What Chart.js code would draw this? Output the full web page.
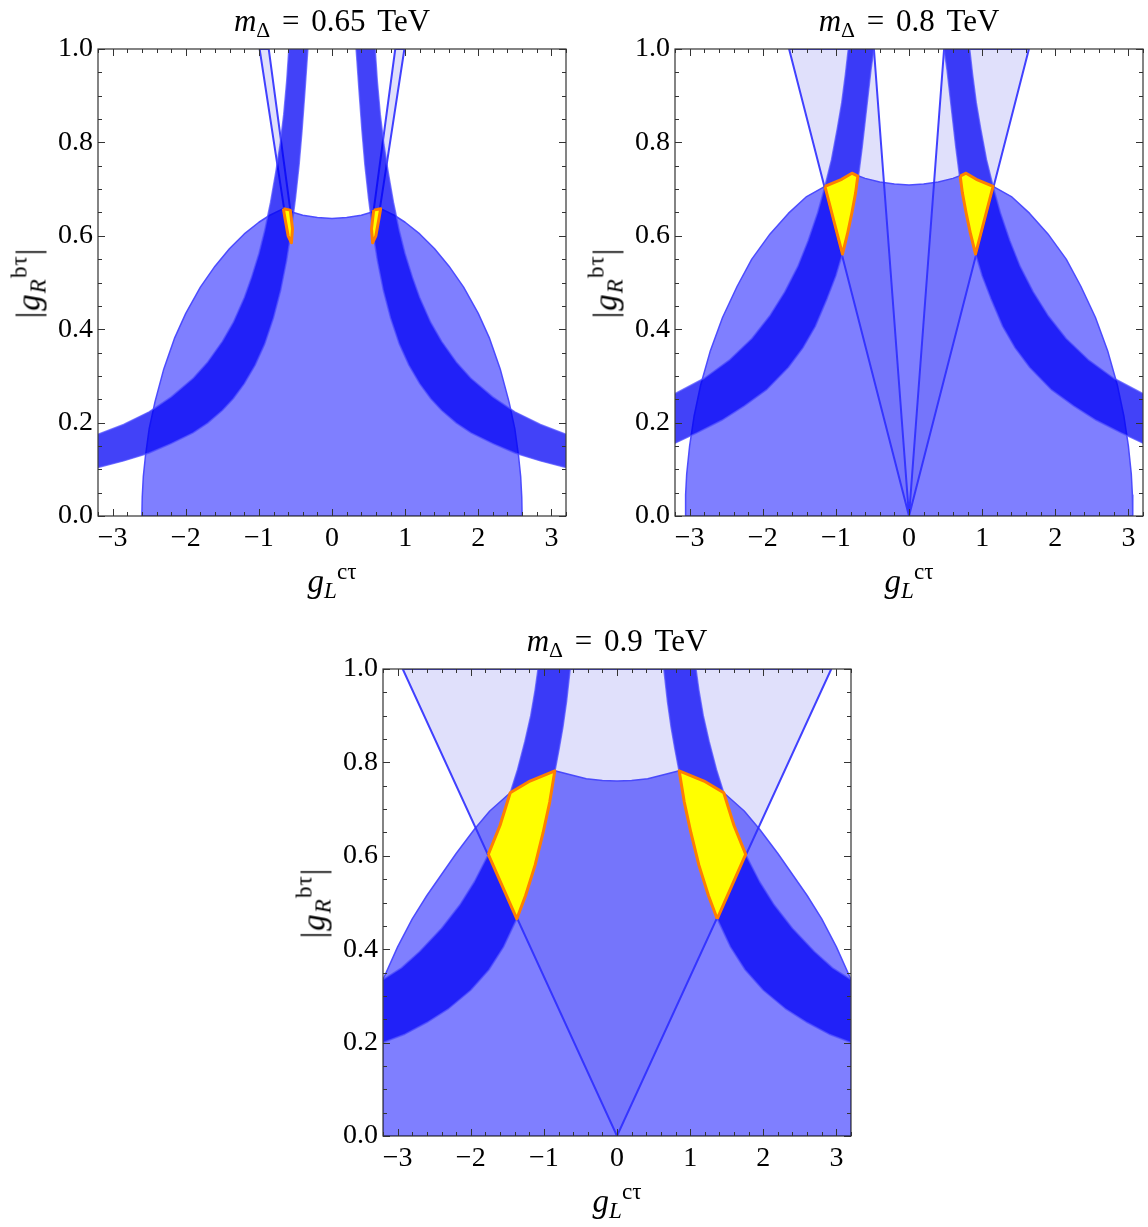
<!DOCTYPE html>
<html>
<head>
<meta charset="utf-8">
<script src="https://cdn.jsdelivr.net/npm/chart.js@4.4.1/dist/chart.umd.min.js"></script>
<style>
  body { margin: 0; background: #fff; width: 1148px; height: 1227px; position: relative; overflow: hidden;
         font-family: "Liberation Serif", "Times New Roman", serif; color: #000; }
  canvas { position: absolute; }
  .lbl { position: absolute; white-space: nowrap; line-height: 1; }
  .title { text-align: center; width: 468px; font-size: 31px; word-spacing: 4px; }
  .sub { font-size: 0.7em; position: relative; top: 0.28em; }
  .sup { font-size: 0.7em; position: relative; top: -0.57em; }
  .xlab { text-align: center; width: 468px; font-size: 33px; }
  .ylab { font-size: 33px; letter-spacing: 1px; transform: translate(-50%, -50%) rotate(-90deg); }
</style>
</head>
<body>
<canvas id="c1" width="574" height="600" style="left:0px;top:0px"></canvas>
<canvas id="c2" width="571" height="600" style="left:577px;top:0px"></canvas>
<canvas id="c3" width="574" height="600" style="left:285px;top:620px"></canvas>

<div class="lbl title" style="left:98px;top:5px"><i>m</i><span class="sub">Δ</span> = 0.65 TeV</div>
<div class="lbl title" style="left:675px;top:5px"><i>m</i><span class="sub">Δ</span> = 0.8 TeV</div>
<div class="lbl title" style="left:383px;top:625px"><i>m</i><span class="sub">Δ</span> = 0.9 TeV</div>

<div class="lbl xlab" style="left:98px;top:565px"><i>g</i><span class="sub"><i>L</i></span><span class="sup">cτ</span></div>
<div class="lbl xlab" style="left:675px;top:565px"><i>g</i><span class="sub"><i>L</i></span><span class="sup">cτ</span></div>
<div class="lbl xlab" style="left:383px;top:1185px"><i>g</i><span class="sub"><i>L</i></span><span class="sup">cτ</span></div>

<div class="lbl ylab" style="left:29px;top:283px">|<i>g</i><span class="sub"><i>R</i></span><span class="sup">bτ</span>|</div>
<div class="lbl ylab" style="left:606px;top:283px">|<i>g</i><span class="sub"><i>R</i></span><span class="sup">bτ</span>|</div>
<div class="lbl ylab" style="left:314px;top:903px">|<i>g</i><span class="sub"><i>R</i></span><span class="sup">bτ</span>|</div>

<script>
// axes
const xRange = [-3.2, 3.2];
const yRange = [0, 1];
const xTickValues = [-3, -2, -1, 0, 1, 2, 3];
const yTickValues = [0, 0.2, 0.4, 0.6, 0.8, 1.0];

// ---- m_Delta = 0.65 TeV ----
const ellipseA = [[-2.60,0],[-2.595,0.04],[-2.58,0.085],[-2.55,0.13],[-2.50,0.187],[-2.42,0.245],[-2.30,0.315],
  [-2.15,0.382],[-2.00,0.434],[-1.80,0.49],[-1.60,0.535],[-1.40,0.573],[-1.20,0.604],[-1.00,0.629],[-0.85,0.644],
  [-0.68,0.657],[-0.55,0.651],[-0.40,0.644],[-0.20,0.639],[0,0.637],[0.20,0.639],[0.40,0.644],[0.55,0.651],
  [0.68,0.657],[0.85,0.644],[1.00,0.629],[1.20,0.604],[1.40,0.573],[1.60,0.535],[1.80,0.49],[2.00,0.434],
  [2.15,0.382],[2.30,0.315],[2.42,0.245],[2.50,0.187],[2.55,0.13],[2.58,0.085],[2.595,0.04],[2.60,0]];
const bandOuterLeftA = [[-0.59,1.0],[-0.62,0.93],[-0.66,0.86],[-0.71,0.795],[-0.77,0.735],[-0.84,0.672],[-0.92,0.612],
  [-1.0,0.562],[-1.1,0.512],[-1.2,0.468],[-1.35,0.415],[-1.5,0.374],[-1.7,0.33],[-1.9,0.295],[-2.2,0.255],
  [-2.5,0.223],[-2.85,0.196],[-3.2,0.175]];
const bandInnerLeftA = [[-3.2,0.104],[-2.85,0.118],[-2.5,0.135],[-2.2,0.155],[-1.9,0.178],[-1.7,0.199],[-1.5,0.226],
  [-1.35,0.251],[-1.2,0.283],[-1.05,0.323],[-0.92,0.368],[-0.8,0.424],[-0.7,0.484],[-0.62,0.547],[-0.56,0.607],
  [-0.5,0.68],[-0.45,0.752],[-0.41,0.825],[-0.37,0.91],[-0.33,1.0]];
const bandOuterRightA = [[0.59,1.0],[0.62,0.93],[0.66,0.86],[0.71,0.795],[0.77,0.735],[0.84,0.672],[0.92,0.612],
  [1.0,0.562],[1.1,0.512],[1.2,0.468],[1.35,0.415],[1.5,0.374],[1.7,0.33],[1.9,0.295],[2.2,0.255],
  [2.5,0.223],[2.85,0.196],[3.2,0.175]];
const bandInnerRightA = [[3.2,0.104],[2.85,0.118],[2.5,0.135],[2.2,0.155],[1.9,0.178],[1.7,0.199],[1.5,0.226],
  [1.35,0.251],[1.2,0.283],[1.05,0.323],[0.92,0.368],[0.8,0.424],[0.7,0.484],[0.62,0.547],[0.56,0.607],
  [0.5,0.68],[0.45,0.752],[0.41,0.825],[0.37,0.91],[0.33,1.0]];
const wedgeLeftA = [[-0.99,1.0],[-0.865,1.0],[-0.57,0.655],[-0.655,0.658]];
const wedgeRightA = [[0.865,1.0],[0.99,1.0],[0.655,0.658],[0.57,0.655]];
const allowedLeftA = [[-0.665,0.658],[-0.57,0.655],[-0.54,0.615],[-0.555,0.585],[-0.60,0.60],[-0.64,0.635]];
const allowedRightA = [[0.57,0.655],[0.665,0.658],[0.64,0.635],[0.60,0.60],[0.555,0.585],[0.54,0.615]];

// ---- m_Delta = 0.8 TeV ----
const ellipseB = [[-3.06,0],[-3.055,0.045],[-3.04,0.09],[-3.0,0.15],[-2.94,0.213],[-2.85,0.28],[-2.72,0.352],
  [-2.55,0.425],[-2.35,0.492],[-2.15,0.55],[-1.9,0.604],[-1.65,0.648],[-1.4,0.684],[-1.15,0.706],[-0.92,0.721],
  [-0.77,0.733],[-0.6,0.723],[-0.4,0.715],[-0.2,0.711],[0,0.709],[0.2,0.711],[0.4,0.715],[0.6,0.723],[0.77,0.733],
  [0.92,0.721],[1.15,0.706],[1.4,0.684],[1.65,0.648],[1.9,0.604],[2.15,0.55],[2.35,0.492],[2.55,0.425],[2.72,0.352],
  [2.85,0.28],[2.94,0.213],[3.0,0.15],[3.04,0.09],[3.055,0.045],[3.06,0]];
const bandOuterLeftB = [[-0.83,1.0],[-0.87,0.945],[-0.92,0.885],[-0.98,0.83],[-1.06,0.763],[-1.15,0.706],[-1.25,0.65],
  [-1.38,0.59],[-1.52,0.535],[-1.7,0.48],[-1.9,0.43],[-2.15,0.38],[-2.45,0.335],[-2.8,0.295],[-3.2,0.262]];
const bandInnerLeftB = [[-3.2,0.156],[-2.9,0.178],[-2.56,0.205],[-2.25,0.236],[-1.95,0.27],[-1.65,0.318],[-1.45,0.36],
  [-1.28,0.406],[-1.12,0.465],[-1.0,0.514],[-0.91,0.561],[-0.84,0.605],[-0.78,0.65],[-0.73,0.692],[-0.69,0.729],
  [-0.64,0.79],[-0.6,0.845],[-0.56,0.9],[-0.52,0.955],[-0.48,1.0]];
const bandOuterRightB = [[0.83,1.0],[0.87,0.945],[0.92,0.885],[0.98,0.83],[1.06,0.763],[1.15,0.706],[1.25,0.65],
  [1.38,0.59],[1.52,0.535],[1.7,0.48],[1.9,0.43],[2.15,0.38],[2.45,0.335],[2.8,0.295],[3.2,0.262]];
const bandInnerRightB = [[3.2,0.156],[2.9,0.178],[2.56,0.205],[2.25,0.236],[1.95,0.27],[1.65,0.318],[1.45,0.36],
  [1.28,0.406],[1.12,0.465],[1.0,0.514],[0.91,0.561],[0.84,0.605],[0.78,0.65],[0.73,0.692],[0.69,0.729],
  [0.64,0.79],[0.6,0.845],[0.56,0.9],[0.52,0.955],[0.48,1.0]];
const wedgeLeftB = [[0,0],[-1.64,1.0],[-0.48,1.0]];
const wedgeRightB = [[0,0],[0.48,1.0],[1.64,1.0]];
const allowedLeftB = [[-1.15,0.706],[-0.92,0.721],[-0.78,0.734],[-0.70,0.728],[-0.73,0.692],[-0.78,0.65],[-0.84,0.605],
  [-0.91,0.561]];
const allowedRightB = [[0.70,0.728],[0.78,0.734],[0.92,0.721],[1.15,0.706],[0.91,0.561],[0.84,0.605],[0.78,0.65],
  [0.73,0.692]];

// ---- m_Delta = 0.9 TeV ----
const ellipseC = [[-3.2,0],[-3.2,0.335],[-3.0,0.405],[-2.8,0.465],[-2.6,0.515],[-2.4,0.56],[-2.2,0.605],[-1.95,0.657],
  [-1.74,0.696],[-1.46,0.735],[-1.19,0.76],[-0.85,0.782],[-0.65,0.774],[-0.42,0.765],[-0.2,0.761],[0,0.76],
  [0.2,0.761],[0.42,0.765],[0.65,0.774],[0.85,0.782],[1.19,0.76],[1.46,0.735],[1.74,0.696],[1.95,0.657],[2.2,0.605],
  [2.4,0.56],[2.6,0.515],[2.8,0.465],[3.0,0.405],[3.2,0.335],[3.2,0]];
const bandOuterLeftC = [[-1.08,1.0],[-1.12,0.955],[-1.18,0.9],[-1.26,0.845],[-1.36,0.785],[-1.46,0.735],[-1.6,0.665],
  [-1.76,0.603],[-1.95,0.545],[-2.15,0.495],[-2.4,0.445],[-2.7,0.395],[-2.95,0.36],[-3.2,0.335]];
const bandInnerLeftC = [[-3.2,0.20],[-2.9,0.218],[-2.6,0.243],[-2.3,0.273],[-2.0,0.312],[-1.75,0.356],[-1.55,0.405],
  [-1.37,0.465],[-1.25,0.515],[-1.12,0.58],[-1.01,0.65],[-0.92,0.715],[-0.85,0.78],[-0.79,0.83],[-0.74,0.875],
  [-0.69,0.93],[-0.64,1.0]];
const bandOuterRightC = [[1.08,1.0],[1.12,0.955],[1.18,0.9],[1.26,0.845],[1.36,0.785],[1.46,0.735],[1.6,0.665],
  [1.76,0.603],[1.95,0.545],[2.15,0.495],[2.4,0.445],[2.7,0.395],[2.95,0.36],[3.2,0.335]];
const bandInnerRightC = [[3.2,0.20],[2.9,0.218],[2.6,0.243],[2.3,0.273],[2.0,0.312],[1.75,0.356],[1.55,0.405],
  [1.37,0.465],[1.25,0.515],[1.12,0.58],[1.01,0.65],[0.92,0.715],[0.85,0.78],[0.79,0.83],[0.74,0.875],
  [0.69,0.93],[0.64,1.0]];
const wedgeC = [[0,0],[-2.93,1.0],[2.93,1.0]];
const allowedLeftC = [[-1.76,0.603],[-1.6,0.665],[-1.46,0.735],[-1.19,0.76],[-0.85,0.782],[-0.92,0.715],[-1.01,0.65],
  [-1.12,0.58],[-1.25,0.515],[-1.37,0.465]];
const allowedRightC = [[1.37,0.465],[1.25,0.515],[1.12,0.58],[1.01,0.65],[0.92,0.715],[0.85,0.782],[1.19,0.76],
  [1.46,0.735],[1.6,0.665],[1.76,0.603]];

const FONT = '"Liberation Serif", "Times New Roman", serif';

function closed(arr) {
  return arr.concat([arr[0]]).map(([x, y]) => ({ x, y }));
}

function region(arr, fill, line, width) {
  return {
    data: closed(arr),
    showLine: true,
    fill: 'shape',
    backgroundColor: fill,
    borderColor: line,
    borderWidth: width,
    borderJoinStyle: 'round',
    pointRadius: 0,
    pointHoverRadius: 0,
    tension: 0,
    clip: 0
  };
}

const ellipseStyle = ['rgba(0,0,255,0.5)', 'rgba(70,70,255,0.95)', 1.5];
const wedgeStyle = ['rgba(60,60,230,0.16)', 'rgba(45,45,255,0.9)', 2];
const bandStyle = ['rgba(0,0,245,0.74)', 'rgba(80,80,255,0.75)', 1.5];
const allowedStyle = ['#ffff00', '#ff7f00', 3];

// inward frame ticks on all four sides, like the original frame
const frameTicks = {
  id: 'frameTicks',
  afterDatasetsDraw(chart) {
    const { ctx, chartArea: a, scales: { x, y } } = chart;
    ctx.save();
    ctx.strokeStyle = '#333';
    ctx.lineWidth = 1;
    ctx.beginPath();
    for (let v = -32; v <= 32; v += 2) {
      const len = v % 10 === 0 ? 7 : 4;
      const px = Math.round(x.getPixelForValue(v / 10)) + 0.5;
      ctx.moveTo(px, a.bottom); ctx.lineTo(px, a.bottom - len);
      ctx.moveTo(px, a.top); ctx.lineTo(px, a.top + len);
    }
    for (let v = 0; v <= 20; v++) {
      const len = v % 4 === 0 ? 7 : 4;
      const py = Math.round(y.getPixelForValue(v / 20)) + 0.5;
      ctx.moveTo(a.left, py); ctx.lineTo(a.left + len, py);
      ctx.moveTo(a.right, py); ctx.lineTo(a.right - len, py);
    }
    ctx.stroke();
    ctx.lineWidth = 1.2;
    ctx.strokeRect(a.left, a.top, a.right - a.left, a.bottom - a.top);
    ctx.restore();
  }
};

function makePanel(id, rightPad, layers) {
  const datasets = layers.map(([arr, style]) => region(arr, ...style));
  datasets.forEach((d, i) => { d.order = -i; });
  new Chart(document.getElementById(id), {
    type: 'scatter',
    data: { datasets },
    options: {
      responsive: false,
      animation: false,
      events: [],
      layout: { padding: { top: 49, right: rightPad, left: 0, bottom: 0 } },
      plugins: { legend: { display: false }, tooltip: { enabled: false } },
      scales: {
        x: {
          type: 'linear', min: xRange[0], max: xRange[1],
          grid: { display: false, drawTicks: false },
          border: { display: false },
          afterBuildTicks: s => { s.ticks = xTickValues.map(v => ({ value: v })); },
          afterFit: s => { s.height = 84; },
          ticks: {
            padding: 6, autoSkip: false, maxRotation: 0, color: '#000',
            font: { family: FONT, size: 28 },
            callback: v => (v < 0 ? '\u2212' + Math.abs(v) : String(v))
          }
        },
        y: {
          type: 'linear', min: yRange[0], max: yRange[1],
          grid: { display: false, drawTicks: false },
          border: { display: false },
          afterBuildTicks: s => { s.ticks = yTickValues.map(v => ({ value: v })); },
          afterFit: s => { s.width = 98; },
          ticks: {
            padding: 5, autoSkip: false, color: '#000',
            font: { family: FONT, size: 28 },
            callback: v => Number(v).toFixed(1)
          }
        }
      }
    },
    plugins: [frameTicks]
  });
}

makePanel('c1', 8, [
  [ellipseA, ellipseStyle],
  [wedgeLeftA, wedgeStyle], [wedgeRightA, wedgeStyle],
  [bandOuterLeftA.concat(bandInnerLeftA), bandStyle],
  [bandOuterRightA.concat(bandInnerRightA), bandStyle],
  [allowedLeftA, allowedStyle], [allowedRightA, allowedStyle]
]);

makePanel('c2', 5, [
  [ellipseB, ellipseStyle],
  [wedgeLeftB, wedgeStyle], [wedgeRightB, wedgeStyle],
  [bandOuterLeftB.concat(bandInnerLeftB), bandStyle],
  [bandOuterRightB.concat(bandInnerRightB), bandStyle],
  [allowedLeftB, allowedStyle], [allowedRightB, allowedStyle]
]);

makePanel('c3', 8, [
  [ellipseC, ellipseStyle],
  [wedgeC, wedgeStyle],
  [bandOuterLeftC.concat(bandInnerLeftC), bandStyle],
  [bandOuterRightC.concat(bandInnerRightC), bandStyle],
  [allowedLeftC, allowedStyle], [allowedRightC, allowedStyle]
]);
</script>
</body>
</html>
